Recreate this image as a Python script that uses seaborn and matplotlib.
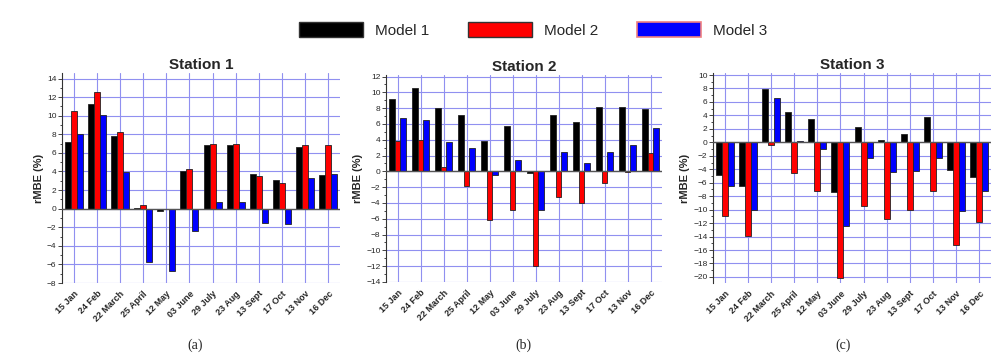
import numpy as np
import pandas as pd
import matplotlib
matplotlib.use("Agg")
import matplotlib.pyplot as plt
from matplotlib.patches import Patch
from matplotlib.ticker import MultipleLocator
import seaborn as sns

# Data
dates = ['15 Jan', '24 Feb', '22 March', '25 April', '12 May', '03 June',
         '29 July', '23 Aug', '13 Sept', '17 Oct', '13 Nov', '16 Dec']
models = ['Model 1', 'Model 2', 'Model 3']

st1_m1 = [7.2, 11.3, 7.8, 0.05, -0.3, 4.0, 6.8, 6.8, 3.7, 3.1, 6.6, 3.6]
st1_m2 = [10.5, 12.6, 8.2, 0.4, 0.0, 4.3, 7.0, 7.0, 3.5, 2.8, 6.9, 6.8]
st1_m3 = [8.0, 10.1, 3.9, -5.7, -6.7, -2.4, 0.7, 0.7, -1.5, -1.6, 3.3, 3.7]

st2_m1 = [9.1, 10.6, 8.0, 7.1, 3.8, 5.7, -0.2, 7.2, 6.2, 8.1, 8.1, 7.9]
st2_m2 = [3.9, 4.0, 0.5, -1.8, -6.1, -4.9, -12.0, -3.2, -4.0, -1.5, -0.1, 2.3]
st2_m3 = [6.7, 6.5, 3.7, 2.9, -0.5, 1.5, -4.9, 2.5, 1.0, 2.4, 3.3, 5.5]

st3_m1 = [-4.9, -6.5, 7.9, 4.5, 3.4, -7.4, 2.3, 0.4, 1.3, 3.7, -4.1, -5.1]
st3_m2 = [-10.9, -13.9, -0.4, -4.5, -7.2, -20.2, -9.5, -11.4, -10.0, -7.3, -15.3, -11.9]
st3_m3 = [-6.5, -10.0, 6.6, 0.2, -1.0, -12.4, -2.3, -4.4, -4.3, -2.4, -10.2, -7.3]

stations = ['Station 1', 'Station 2', 'Station 3']
panel_tags = ['(a)', '(b)', '(c)']
colors = ['#000000', '#ff0000', '#0000ff']


def long_frame(m1, m2, m3):
    rows = []
    for name, vals in zip(models, [m1, m2, m3]):
        for d, v in zip(dates, vals):
            rows.append({'date': d, 'model': name, 'rMBE': v})
    return pd.DataFrame(rows)


frames = [long_frame(st1_m1, st1_m2, st1_m3),
          long_frame(st2_m1, st2_m2, st2_m3),
          long_frame(st3_m1, st3_m2, st3_m3)]

sns.set_style('white')
plt.rcParams['font.family'] = ['Liberation Sans', 'DejaVu Sans']

fig = plt.figure(figsize=(10.07, 3.64), dpi=100)
W, H = 1007.0, 364.0
boxes = [(62, 73, 340, 283), (386, 75, 662, 282), (713, 73, 991, 283)]
ylims = [(-8, 14.6), (-14, 12.2), (-20.9, 10.3)]
majors = [2, 2, 2]
tag_x = [195, 523, 843]

for i, (df, box) in enumerate(zip(frames, boxes)):
    x0, y0, x1, y1 = box
    ax = fig.add_axes([x0 / W, 1 - y1 / H, (x1 - x0) / W, (y1 - y0) / H])
    sns.barplot(data=df, x='date', y='rMBE', hue='model', palette=colors,
                saturation=1, width=0.78, edgecolor='#222222', linewidth=0.6,
                ax=ax, legend=False, zorder=3)
    ax.set_ylim(*ylims[i])
    ax.set_xlim(-0.5, len(dates) - 0.5)
    ax.yaxis.set_major_locator(MultipleLocator(majors[i]))
    ax.yaxis.set_minor_locator(MultipleLocator(majors[i] / 2))
    ax.grid(True, which='major', color='#9090f0', linewidth=0.8, zorder=0)
    ax.set_axisbelow(True)
    ax.axhline(0, color='#555555', linewidth=1.0, zorder=4)
    for s in ['top', 'right', 'bottom']:
        ax.spines[s].set_visible(False)
    ax.spines['left'].set_color('#333333')
    ax.spines['left'].set_linewidth(0.8)
    ax.tick_params(axis='y', which='both', left=True, direction='out',
                   length=3, width=0.6, labelsize=6, pad=1)
    ax.tick_params(axis='y', which='minor', length=1.5)
    ax.tick_params(axis='x', bottom=False, labelsize=6.5, pad=1)
    ax.set_xticks(range(len(dates)))
    ax.set_xticklabels(dates, rotation=45, ha='right', rotation_mode='anchor',
                       fontweight='bold')
    ax.set_xlabel('')
    ax.set_ylabel('rMBE (%)', fontsize=8, fontweight='bold', labelpad=2)
    ax.set_title(stations[i], fontsize=11, fontweight='bold', pad=3)
    fig.text(tag_x[i] / W, 1 - 345 / H, panel_tags[i], ha='center', va='center',
             fontsize=10, family='Liberation Serif')

handles = [Patch(facecolor=colors[0], edgecolor='#333333'),
           Patch(facecolor=colors[1], edgecolor='#333333'),
           Patch(facecolor=colors[2], edgecolor='#f08080', linewidth=1.2)]
fig.legend(handles, models, loc='center', bbox_to_anchor=(533 / W, 1 - 30 / H),
           ncol=3, frameon=False, fontsize=11, handlelength=4.2, handleheight=1.1,
           columnspacing=2.5, handletextpad=0.8)

fig.savefig('out.png', dpi=100)
